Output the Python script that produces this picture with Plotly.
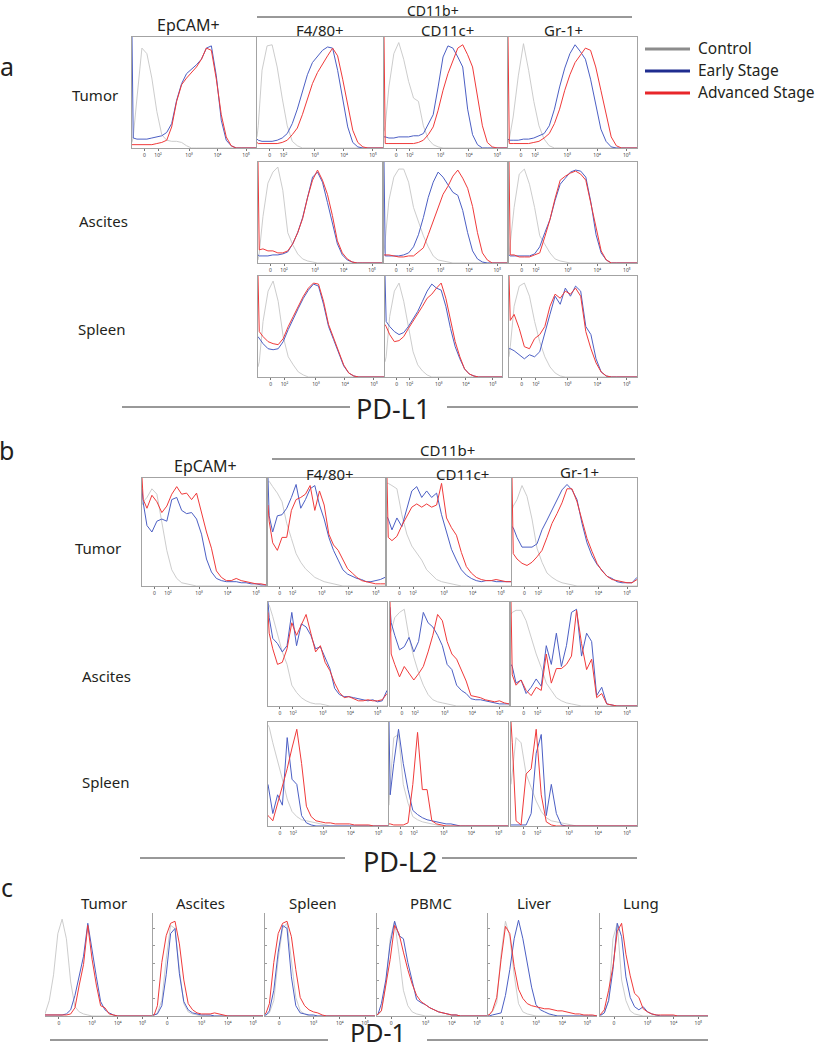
import plotly.graph_objects as go

W, H = 817, 1050

# shared histogram bin positions (display units of the logicle-like axis, 0-100)
BINS = [0, 1, 4, 8, 12, 16, 20, 24, 28, 32, 36, 40, 44, 48, 52, 56, 60, 64, 68, 72, 76, 80, 84, 88, 92, 96, 100]

# tick labels
TICKS_AB = [10, 21, 46, 69, 92]
TICKTEXT_AB = ["0", "10²", "10³", "10⁴", "10⁵"]
TICKS_C = [13, 44, 68, 91]
TICKTEXT_C = ["0", "10³", "10⁴", "10⁵"]

SERIES = ["Control", "Early Stage", "Advanced Stage"]

# ---------------- panel a : PD-L1 (percent of modal height) ----------------
a_tumor_epcam_ctrl = [5,10,45,90,85,63,33,12,7,6,6,5,2,0,0,0,0,0,0,0,0,0,0,0,0,0,0]
a_tumor_epcam_early = [100,9,8,8,8,9,10,11,14,22,43,58,67,71,75,80,90,92,65,25,7,2,0,0,0,0,0]
a_tumor_epcam_adv = [3,3,3,3,3,3,4,5,7,19,42,57,63,68,73,80,90,88,62,30,10,2,0,0,0,0,0]

a_tumor_f480_ctrl = [10,20,70,92,93,73,45,20,6,2,0,0,0,0,0,0,0,0,0,0,0,0,0,0,0,0,0]
a_tumor_f480_early = [8,7,6,6,6,7,9,13,22,35,51,66,77,83,88,91,90,70,46,19,5,1,0,0,0,0,0]
a_tumor_f480_adv = [5,4,4,4,4,4,5,7,12,18,30,45,58,68,76,83,90,83,62,38,16,5,1,0,0,0,0]

a_tumor_cd11c_ctrl = [15,20,55,85,95,80,60,45,42,20,8,3,1,0,0,0,0,0,0,0,0,0,0,0,0,0,0]
a_tumor_cd11c_early = [10,10,9,9,10,10,10,11,11,13,22,30,55,82,92,90,82,73,35,12,3,0,0,0,0,0,0]
a_tumor_cd11c_adv = [100,4,4,4,4,4,4,4,5,7,12,19,34,52,67,79,90,93,84,73,46,20,5,1,0,0,0]

a_tumor_gr1_ctrl = [5,8,28,65,94,70,42,20,8,2,0,0,0,0,0,0,0,0,0,0,0,0,0,0,0,0,0]
a_tumor_gr1_early = [8,7,7,7,8,8,9,11,13,20,35,55,72,85,93,87,80,62,40,17,6,1,0,0,0,0,0]
a_tumor_gr1_adv = [100,4,4,4,4,4,5,6,9,13,22,35,52,66,77,84,90,88,73,52,30,10,2,0,0,0,0]

a_asc_f480_ctrl = [3,10,46,79,90,95,72,30,18,9,4,2,1,0,0,0,0,0,0,0,0,0,0,0,0,0,0]
a_asc_f480_early = [8,7,7,7,8,8,9,11,19,30,45,66,85,90,80,60,38,19,8,3,1,0,0,0,0,0,0]
a_asc_f480_adv = [100,13,14,12,12,10,10,12,19,30,44,65,82,92,82,68,47,22,10,4,1,0,0,0,0,0,0]

a_asc_cd11c_ctrl = [10,25,62,85,93,93,80,55,40,27,16,7,3,2,1,0,0,0,0,0,0,0,0,0,0,0,0]
a_asc_cd11c_early = [100,7,7,7,7,8,10,16,28,45,65,80,90,85,77,70,67,52,30,12,4,1,0,0,0,0,0]
a_asc_cd11c_adv = [8,8,8,7,6,6,7,7,11,15,28,42,55,68,76,86,92,84,74,56,30,10,3,0,0,0,0]

a_asc_gr1_ctrl = [8,20,55,88,93,78,55,27,18,10,4,2,1,0,0,0,0,0,0,0,0,0,0,0,0,0,0]
a_asc_gr1_early = [8,7,7,7,7,7,9,16,30,43,62,78,84,90,92,91,85,60,28,10,3,0,0,0,0,0,0]
a_asc_gr1_adv = [100,8,8,6,6,6,8,10,26,43,64,82,86,89,91,88,82,58,33,12,3,0,0,0,0,0,0]

a_spl_f480_ctrl = [10,15,55,85,95,75,40,20,12,5,2,0,0,0,0,0,0,0,0,0,0,0,0,0,0,0,0]
a_spl_f480_early = [40,38,33,28,27,28,35,47,58,68,78,86,92,90,72,50,37,24,11,4,1,0,0,0,0,0,0]
a_spl_f480_adv = [100,45,40,35,33,32,38,50,60,70,80,88,93,92,75,52,38,26,12,4,1,0,0,0,0,0,0]

a_spl_cd11c_ctrl = [15,20,60,85,93,75,50,25,12,6,2,0,0,0,0,0,0,0,0,0,0,0,0,0,0,0,0]
a_spl_cd11c_early = [100,55,50,45,42,44,50,58,65,75,85,92,88,86,70,48,30,18,8,3,1,0,0,0,0,0,0]
a_spl_cd11c_adv = [52,50,42,35,36,40,48,55,62,70,78,82,88,93,78,55,35,20,8,3,1,0,0,0,0,0,0]

a_spl_gr1_ctrl = [20,30,70,90,93,80,55,35,20,10,4,1,0,0,0,0,0,0,0,0,0,0,0,0,0,0,0]
a_spl_gr1_early = [28,28,26,22,18,22,20,25,45,62,80,72,88,80,90,85,50,42,18,5,1,0,0,0,0,0,0]
a_spl_gr1_adv = [100,56,62,48,30,28,38,42,50,70,82,78,85,82,88,80,45,28,14,5,1,0,0,0,0,0,0]

# ---------------- panel b : PD-L2 ----------------
b_tumor_epcam_ctrl = [75,78,82,90,85,57,33,15,7,3,2,1,0,0,0,0,0,0,0,0,0,0,0,0,0,0,0]
b_tumor_epcam_early = [90,77,56,50,60,62,60,80,82,70,67,68,62,48,25,13,7,5,4,4,4,3,3,2,2,1,1]
b_tumor_epcam_adv = [100,80,72,84,78,68,74,85,92,85,86,80,86,68,50,35,14,8,5,5,7,5,4,3,2,2,1]

b_tumor_f480_ctrl = [96,97,92,86,78,58,44,30,22,16,12,8,6,4,3,2,1,0,0,0,0,0,0,0,0,0,0]
b_tumor_f480_early = [100,65,50,65,66,72,82,94,72,80,90,93,75,62,45,33,24,15,11,9,7,6,4,4,5,6,8]
b_tumor_f480_adv = [75,60,40,33,45,45,70,80,82,85,93,70,88,75,48,38,33,24,16,12,8,5,4,3,2,2,2]

b_tumor_cd11c_ctrl = [95,95,93,90,66,48,37,30,24,15,10,6,4,3,2,1,0,0,0,0,0,0,0,0,0,0,0]
b_tumor_cd11c_early = [64,62,52,63,55,72,88,92,82,88,82,86,66,50,34,24,15,10,7,5,4,5,5,4,4,4,4]
b_tumor_cd11c_adv = [100,45,42,46,56,65,73,76,73,76,73,75,95,63,54,47,31,18,12,8,6,5,5,6,5,4,4]

b_tumor_gr1_ctrl = [70,74,80,93,83,62,35,22,12,8,5,3,2,1,0,0,0,0,0,0,0,0,0,0,0,0,0]
b_tumor_gr1_early = [55,54,45,36,36,36,39,52,61,70,80,89,94,89,80,58,40,28,20,14,9,7,4,3,3,3,8]
b_tumor_gr1_adv = [100,30,25,21,19,22,27,33,45,58,67,77,90,90,78,60,44,32,21,14,9,6,5,4,3,3,6]

b_asc_f480_ctrl = [98,97,86,70,52,40,20,13,8,5,3,2,2,1,0,0,0,0,0,0,0,0,0,0,0,0,0]
b_asc_f480_early = [100,85,65,60,52,58,90,58,79,76,68,55,57,46,36,17,11,9,9,8,7,6,5,6,4,5,15]
b_asc_f480_adv = [90,70,55,40,42,55,80,68,78,88,70,52,58,42,34,22,13,8,9,7,5,5,6,5,5,6,12]

b_asc_cd11c_ctrl = [70,72,85,90,93,66,47,32,20,11,6,4,3,2,1,0,0,0,0,0,0,0,0,0,0,0,0]
b_asc_cd11c_early = [95,80,68,54,57,66,52,62,90,80,76,68,58,40,35,20,15,12,7,6,6,5,4,3,2,2,2]
b_asc_cd11c_adv = [100,50,40,28,38,31,25,31,38,52,68,88,82,62,50,45,34,24,10,9,8,6,5,4,5,3,2]

b_asc_gr1_ctrl = [88,90,92,92,82,66,50,37,22,15,8,5,3,2,1,0,0,0,0,0,0,0,0,0,0,0,0]
b_asc_gr1_early = [40,38,22,25,12,18,26,19,58,40,70,38,58,90,93,48,70,62,10,18,2,1,0,0,0,0,0]
b_asc_gr1_adv = [100,30,20,25,15,10,18,15,50,22,36,36,40,48,92,60,35,45,8,12,2,1,0,0,0,0,0]

b_spl_f480_ctrl = [97,95,80,63,45,26,14,9,6,5,4,3,2,1,0,0,0,0,0,0,0,0,0,0,0,0,0]
b_spl_f480_early = [40,32,12,30,20,85,45,40,10,3,1,0,0,0,0,0,0,0,0,0,0,0,0,0,0,0,0]
b_spl_f480_adv = [10,9,5,22,38,55,75,93,60,19,9,5,4,3,3,2,2,2,2,1,1,1,1,0,0,0,0]

b_spl_cd11c_ctrl = [20,40,85,88,40,22,9,6,4,3,2,1,0,0,0,0,0,0,0,0,0,0,0,0,0,0,0]
b_spl_cd11c_early = [100,30,60,93,60,35,15,11,8,6,5,4,3,2,2,1,0,0,0,0,0,0,0,0,0,0,0]
b_spl_cd11c_adv = [2,2,1,1,1,3,40,90,35,35,5,2,1,0,0,0,0,0,0,0,0,0,0,0,0,0,0]

b_spl_gr1_ctrl = [40,50,85,80,50,37,24,14,8,5,4,3,2,1,0,0,0,0,0,0,0,0,0,0,0,0,0]
b_spl_gr1_early = [1,1,1,1,1,12,70,88,10,40,12,1,0,0,0,0,0,0,0,0,0,0,0,0,0,0,0]
b_spl_gr1_adv = [100,80,5,1,50,55,93,30,4,1,0,0,0,0,0,0,0,0,0,0,0,0,0,0,0,0,0]

# ---------------- panel c : PD-1 ----------------
c_tumor_ctrl = [2,5,15,40,80,94,75,33,9,4,2,1,0,0,0,0,0,0,0,0,0,0,0,0,0,0,0]
c_tumor_early = [1,1,1,1,1,1,2,6,20,38,58,90,62,38,14,6,3,1,0,0,0,0,0,0,0,0,0]
c_tumor_adv = [1,1,1,1,1,1,1,2,8,30,50,88,55,30,10,8,2,1,0,0,0,0,0,0,0,0,0]

c_asc_ctrl = [1,1,3,15,55,88,85,45,12,4,2,1,0,0,0,0,0,0,0,0,0,0,0,0,0,0,0]
c_asc_early = [1,1,2,10,40,80,85,41,14,6,3,2,1,1,1,0,0,0,0,0,0,0,0,0,0,0,0]
c_asc_adv = [1,1,10,52,78,90,92,70,35,12,6,3,2,2,2,3,2,1,0,0,0,0,0,0,0,0,0]

c_spl_ctrl = [1,1,3,15,55,85,90,55,18,5,2,0,0,0,0,0,0,0,0,0,0,0,0,0,0,0,0]
c_spl_early = [1,1,5,25,62,88,85,38,10,3,2,1,1,0,0,0,0,0,0,0,0,0,0,0,0,0,0]
c_spl_adv = [2,3,12,52,80,90,92,77,45,18,10,6,4,3,1,0,0,0,0,0,0,0,0,0,0,0,0]

c_pbmc_ctrl = [1,1,5,30,75,92,60,25,10,4,2,1,0,0,0,0,0,0,0,0,0,0,0,0,0,0,0]
c_pbmc_early = [1,2,12,35,70,92,78,75,52,33,16,13,11,8,6,4,3,2,1,1,0,0,0,0,0,0,0]
c_pbmc_adv = [1,2,5,30,55,88,80,62,45,31,20,14,11,8,6,4,3,2,1,1,0,0,0,0,0,0,0]

c_liver_ctrl = [1,1,4,13,60,92,77,40,12,4,2,1,0,0,0,0,0,0,0,0,0,0,0,0,0,0,0]
c_liver_early = [0,0,1,2,3,20,45,75,93,75,50,28,11,6,4,2,1,0,0,0,0,0,0,0,0,0,0]
c_liver_adv = [1,1,5,18,55,87,80,48,26,17,12,10,9,8,7,7,6,5,5,4,3,2,2,1,1,1,0]

c_lung_ctrl = [1,1,3,15,75,90,35,15,5,2,1,0,0,0,0,0,0,0,0,0,0,0,0,0,0,0,0]
c_lung_early = [1,1,3,15,45,90,77,38,18,9,6,9,4,2,1,0,0,0,0,0,0,0,0,0,0,0,0]
c_lung_adv = [1,2,6,25,48,82,90,60,39,22,18,7,4,2,1,1,1,1,1,0,0,0,0,0,0,0,0]

# ---------------- layout of the small multiples (pixel boxes) ----------------
# (series triple, x0, x1, y0, y1, kind)
PANELS = [
    ((a_tumor_epcam_ctrl, a_tumor_epcam_early, a_tumor_epcam_adv), 132, 256, 37, 148, "ab"),
    ((a_tumor_f480_ctrl, a_tumor_f480_early, a_tumor_f480_adv), 257, 383, 37, 148, "ab"),
    ((a_tumor_cd11c_ctrl, a_tumor_cd11c_early, a_tumor_cd11c_adv), 384, 507, 37, 148, "ab"),
    ((a_tumor_gr1_ctrl, a_tumor_gr1_early, a_tumor_gr1_adv), 508, 637, 37, 148, "ab"),
    ((a_asc_f480_ctrl, a_asc_f480_early, a_asc_f480_adv), 258, 382, 162, 263, "ab"),
    ((a_asc_cd11c_ctrl, a_asc_cd11c_early, a_asc_cd11c_adv), 384, 507, 162, 263, "ab"),
    ((a_asc_gr1_ctrl, a_asc_gr1_early, a_asc_gr1_adv), 509, 637, 162, 263, "ab"),
    ((a_spl_f480_ctrl, a_spl_f480_early, a_spl_f480_adv), 258, 384, 276, 377, "ab"),
    ((a_spl_cd11c_ctrl, a_spl_cd11c_early, a_spl_cd11c_adv), 385, 502, 276, 377, "ab"),
    ((a_spl_gr1_ctrl, a_spl_gr1_early, a_spl_gr1_adv), 509, 637, 276, 377, "ab"),
    ((b_tumor_epcam_ctrl, b_tumor_epcam_early, b_tumor_epcam_adv), 142, 266, 478, 586, "ab"),
    ((b_tumor_f480_ctrl, b_tumor_f480_early, b_tumor_f480_adv), 268, 385, 478, 586, "ab"),
    ((b_tumor_cd11c_ctrl, b_tumor_cd11c_early, b_tumor_cd11c_adv), 387, 511, 478, 586, "ab"),
    ((b_tumor_gr1_ctrl, b_tumor_gr1_early, b_tumor_gr1_adv), 512, 637, 478, 586, "ab"),
    ((b_asc_f480_ctrl, b_asc_f480_early, b_asc_f480_adv), 268, 387, 602, 706, "ab"),
    ((b_asc_cd11c_ctrl, b_asc_cd11c_early, b_asc_cd11c_adv), 390, 509, 602, 706, "ab"),
    ((b_asc_gr1_ctrl, b_asc_gr1_early, b_asc_gr1_adv), 511, 637, 602, 706, "ab"),
    ((b_spl_f480_ctrl, b_spl_f480_early, b_spl_f480_adv), 268, 388, 722, 826, "ab"),
    ((b_spl_cd11c_ctrl, b_spl_cd11c_early, b_spl_cd11c_adv), 389, 508, 722, 826, "ab"),
    ((b_spl_gr1_ctrl, b_spl_gr1_early, b_spl_gr1_adv), 511, 637, 722, 826, "ab"),
    ((c_tumor_ctrl, c_tumor_early, c_tumor_adv), 45, 152, 913, 1016, "c0"),
    ((c_asc_ctrl, c_asc_early, c_asc_adv), 153, 263, 913, 1016, "c"),
    ((c_spl_ctrl, c_spl_early, c_spl_adv), 265, 375, 913, 1016, "c"),
    ((c_pbmc_ctrl, c_pbmc_early, c_pbmc_adv), 377, 487, 913, 1016, "c"),
    ((c_liver_ctrl, c_liver_early, c_liver_adv), 488, 597, 913, 1016, "c"),
    ((c_lung_ctrl, c_lung_early, c_lung_adv), 600, 708, 913, 1016, "c"),
]

CURVE_COLORS = ["#c6c6c6", "#4c5fc4", "#f03a3a"]
CURVE_WIDTHS = [0.9, 1.0, 1.0]
FRAME = "#a3a3a3"
TXT = "#231f20"
FONT = "Noto Sans"


def px(x):
    return x / W


def py(y):
    return 1 - y / H


fig = go.Figure()
layout = {}
for i, (triple, x0, x1, y0, y1, kind) in enumerate(PANELS, start=1):
    xs = "" if i == 1 else str(i)
    for vals, col, lw, name in zip(triple, CURVE_COLORS, CURVE_WIDTHS, SERIES):
        fig.add_trace(go.Scatter(
            x=BINS, y=vals, mode="lines", name=name, showlegend=False,
            line=dict(color=col, width=lw), xaxis="x" + xs, yaxis="y" + xs,
            hoverinfo="skip"))
    if kind == "ab":
        tv, tt = TICKS_AB, TICKTEXT_AB
    else:
        tv, tt = TICKS_C, TICKTEXT_C
    xa = dict(domain=[px(x0), px(x1)], range=[0, 100], anchor="y" + xs,
              showgrid=False, zeroline=False, showline=True, linecolor=FRAME,
              linewidth=1, mirror=(kind == "ab"), tickvals=tv, ticktext=tt,
              ticks="outside", ticklen=2, tickwidth=0.6, tickcolor="#777",
              tickfont=dict(size=5, color="#444", family=FONT), fixedrange=True)
    ya = dict(domain=[py(y1), py(y0)], range=[0, 100], anchor="x" + xs,
              showgrid=False, zeroline=False, showticklabels=False,
              showline=(kind != "c0"), linecolor=FRAME, linewidth=1,
              mirror=(kind == "ab"), fixedrange=True)
    if kind == "c":
        ya.update(ticks="inside", tickvals=[0, 17, 34, 51, 68, 85], ticklen=2,
                  tickcolor="#999", tickwidth=0.6)
    else:
        ya.update(ticks="")
    layout["xaxis" + xs] = xa
    layout["yaxis" + xs] = ya

fig.update_layout(**layout)

annotations = []


def text(x, y, s, size, anchor="center", vanchor="middle"):
    annotations.append(dict(x=px(x), y=py(y), xref="paper", yref="paper", text=s,
                            showarrow=False, xanchor=anchor, yanchor=vanchor,
                            borderpad=0,
                            font=dict(family=FONT, size=size, color=TXT)))


# panel letters
text(7, 66, "a", 25)
text(7, 450, "b", 25)
text(7, 887, "c", 25)

# panel a headers
text(188, 25, "EpCAM+", 16)
text(433, 0, "CD11b+", 14, vanchor="top")
text(320, 30, "F4/80+", 15)
text(447, 30, "CD11c+", 15)
text(563, 30, "Gr-1+", 15)
# panel a rows
text(95, 95, "Tumor", 15)
text(103, 221, "Ascites", 15)
text(102, 329, "Spleen", 15)
text(393, 408, "PD-L1", 27)

# panel b headers
text(205, 466, "EpCAM+", 16)
text(448, 450, "CD11b+", 15)
text(330, 474, "F4/80+", 15)
text(462, 474, "CD11c+", 15)
text(579, 472, "Gr-1+", 15)
text(98, 548, "Tumor", 15)
text(107, 676, "Ascites", 15)
text(106, 782, "Spleen", 15)
text(400, 861, "PD-L2", 27)

# panel c titles
for cx, lab in zip([104, 200, 313, 431, 534, 641],
                   ["Tumor", "Ascites", "Spleen", "PBMC", "Liver", "Lung"]):
    text(cx, 903, lab, 15)
text(378, 1050, "PD-1", 25, vanchor="bottom")

# legend
LEG_COLORS = ["#8c8c8c", "#1f2d8f", "#e8262a"]
LEG_Y = [49, 71, 93]
shapes = []
for lab, col, ly in zip(SERIES, LEG_COLORS, LEG_Y):
    shapes.append(dict(type="line", xref="paper", yref="paper", x0=px(645), x1=px(690),
                       y0=py(ly), y1=py(ly), line=dict(color=col, width=3)))
    text(697, ly - 1, lab, 15.5, anchor="left")

# rule lines
for (lx0, lx1, ly) in [(257, 632, 17), (272, 635, 459),
                       (122, 350, 407), (447, 638, 407),
                       (140, 345, 858), (442, 637, 858),
                       (50, 328, 1040), (427, 708, 1040)]:
    shapes.append(dict(type="line", xref="paper", yref="paper", x0=px(lx0), x1=px(lx1),
                       y0=py(ly), y1=py(ly), line=dict(color="#333333", width=1)))

fig.update_layout(width=W, height=H, margin=dict(l=0, r=0, t=0, b=0),
                  paper_bgcolor="white", plot_bgcolor="white",
                  annotations=annotations, shapes=shapes, showlegend=False)

fig.write_html("out.html", config={"displayModeBar": False},
               post_script="document.body.style.margin='0';document.body.style.overflow='hidden';")
